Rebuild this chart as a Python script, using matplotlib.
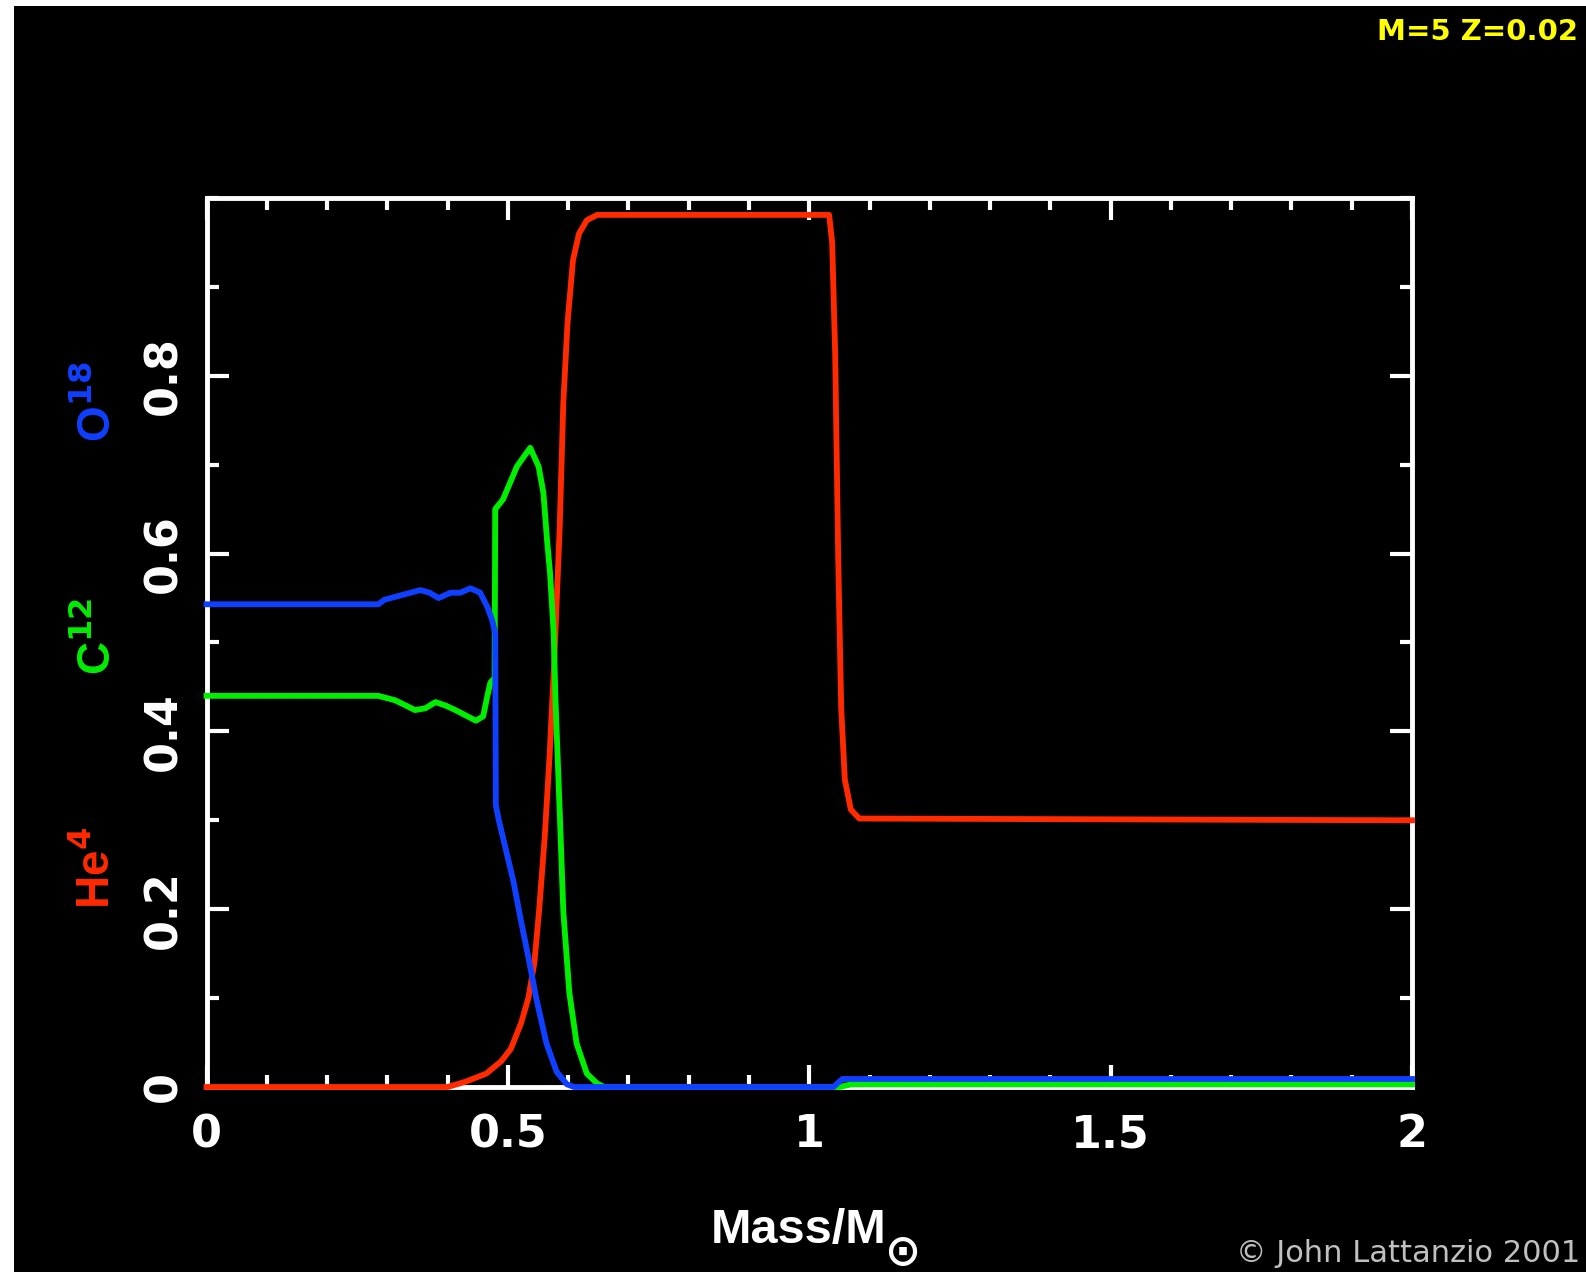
import matplotlib
matplotlib.use("Agg")
import matplotlib.pyplot as plt
from matplotlib.patches import Rectangle
from matplotlib.ticker import MultipleLocator

plt.rcParams['font.family'] = ['Liberation Sans', 'DejaVu Sans']
plt.rcParams['font.weight'] = 'bold'
plt.rcParams['mathtext.fontset'] = 'dejavusans'
plt.rcParams['mathtext.default'] = 'bf'

# ---- data ----
he4_x = [0, 0.40, 0.43, 0.464, 0.489, 0.505, 0.522, 0.534, 0.544, 0.552, 0.561,
         0.569, 0.577, 0.586, 0.592, 0.599, 0.608, 0.618, 0.631, 0.648, 1.033,
         1.038, 1.043, 1.048, 1.053, 1.059, 1.069, 1.083, 2.0]
he4_y = [0, 0, 0.006, 0.015, 0.029, 0.043, 0.072, 0.10, 0.14, 0.20, 0.28,
         0.37, 0.48, 0.63, 0.77, 0.86, 0.93, 0.96, 0.975, 0.981, 0.981,
         0.95, 0.825, 0.597, 0.426, 0.346, 0.312, 0.302, 0.300]

c12_x = [0, 0.285, 0.313, 0.346, 0.363, 0.38, 0.397, 0.413, 0.43, 0.447, 0.459,
         0.466, 0.471, 0.478, 0.479, 0.492, 0.515, 0.537, 0.551, 0.559, 0.565,
         0.570, 0.576, 0.579, 0.586, 0.592, 0.602, 0.614, 0.631, 0.648, 0.66,
         1.05, 1.07, 2.0]
c12_y = [0.44, 0.44, 0.435, 0.424, 0.426, 0.433, 0.429, 0.424, 0.418, 0.412, 0.417,
         0.44, 0.455, 0.46, 0.65, 0.661, 0.698, 0.719, 0.698, 0.668, 0.615,
         0.578, 0.51, 0.435, 0.31, 0.197, 0.106, 0.049, 0.015, 0.004, 0.0,
         0.0, 0.003, 0.003]

o18_x = [0, 0.285, 0.295, 0.322, 0.355, 0.37, 0.385, 0.405, 0.421, 0.438, 0.454,
         0.466, 0.474, 0.479, 0.480, 0.485, 0.497, 0.509, 0.522, 0.534, 0.547,
         0.564, 0.581, 0.598, 0.61, 1.04, 1.055, 2.0]
o18_y = [0.543, 0.543, 0.548, 0.553, 0.559, 0.556, 0.55, 0.556, 0.556, 0.561, 0.556,
         0.54, 0.525, 0.51, 0.317, 0.30, 0.266, 0.232, 0.186, 0.146, 0.10,
         0.049, 0.017, 0.003, 0.0, 0.0, 0.009, 0.009]

xtick_vals = [0, 0.5, 1, 1.5, 2]
xtick_labels = ["0", "0.5", "1", "1.5", "2"]
ytick_vals = [0, 0.2, 0.4, 0.6, 0.8]
ytick_labels = ["0", "0.2", "0.4", "0.6", "0.8"]

RED = '#ff2a00'
GREEN = '#00ee00'
BLUE = '#1040ff'

W, H = 1586, 1272
fig = plt.figure(figsize=(W / 100, H / 100), dpi=100)
fig.patch.set_facecolor('white')
fig.add_artist(Rectangle((14 / W, 0), 1, 1 - 6 / H, transform=fig.transFigure,
                         facecolor='black', edgecolor='none', zorder=0))

ax = fig.add_axes([206.5 / W, 1 - 1087 / H, (1412 - 206.5) / W, (1087 - 198) / H])
ax.set_facecolor('black')
for s in ax.spines.values():
    s.set_color('white')
    s.set_linewidth(3.5)
    s.set_zorder(2.5)

lw = 4.2
ax.plot(he4_x, he4_y, color=RED, lw=lw, zorder=3, clip_on=False)
ax.plot(c12_x, c12_y, color=GREEN, lw=lw, zorder=3, clip_on=False)
ax.plot(o18_x, o18_y, color=BLUE, lw=lw, zorder=3, clip_on=False)

ax.set_xlim(0, 2)
ax.set_ylim(0, 1.0)
ax.set_xticks(xtick_vals)
ax.set_xticklabels(xtick_labels)
ax.set_yticks(ytick_vals)
ax.set_yticklabels(ytick_labels, rotation=90, va='center')
ax.xaxis.set_minor_locator(MultipleLocator(0.1))
ax.yaxis.set_minor_locator(MultipleLocator(0.1))
ax.tick_params(which='both', direction='in', top=True, right=True, colors='white')
ax.tick_params(which='major', length=15.8, width=3.0)
ax.tick_params(which='minor', length=8.6, width=3.0)
ax.tick_params(axis='x', which='major', labelsize=32, pad=19)
ax.tick_params(axis='y', which='major', labelsize=32, pad=15)
for lab in ax.get_xticklabels() + ax.get_yticklabels():
    lab.set_fontweight('bold')
    lab.set_family('DejaVu Sans')
    lab.set_color('white')

# x label: "Mass/M" followed by the solar symbol
xl = fig.text(711 / W, 1 - 1243 / H, "Mass/M", color='white', fontsize=35,
              fontweight='bold', ha='left', va='baseline')
ax.annotate(r"$\odot$", xy=(1, 0), xycoords=xl, xytext=(-2, -1), textcoords='offset points',
            color='white', fontsize=31, ha='left', va='center', annotation_clip=False)

# y label pieces
fig.text(97 / W, 1 - 868 / H, r"He$^{4}$", color=RED, fontsize=33, fontweight='bold',
         rotation=90, ha='center', va='center')
fig.text(97 / W, 1 - 636 / H, r"C$^{12}$", color=GREEN, fontsize=33, fontweight='bold',
         rotation=90, ha='center', va='center')
fig.text(97 / W, 1 - 402 / H, r"O$^{18}$", color=BLUE, fontsize=33, fontweight='bold',
         rotation=90, ha='center', va='center')

# annotations
fig.text(1578 / W, 1 - 40 / H, "M=5 Z=0.02", color='#ffff00', fontsize=21,
         fontweight='bold', family='DejaVu Sans', ha='right', va='baseline')
fig.text(1580 / W, 1 - 1262 / H, "\u00a9 John Lattanzio 2001", color='#c0c0c0',
         fontsize=22, fontweight='normal', family='DejaVu Sans', ha='right', va='baseline')

fig.savefig("out.png", dpi=100, facecolor=fig.get_facecolor())
